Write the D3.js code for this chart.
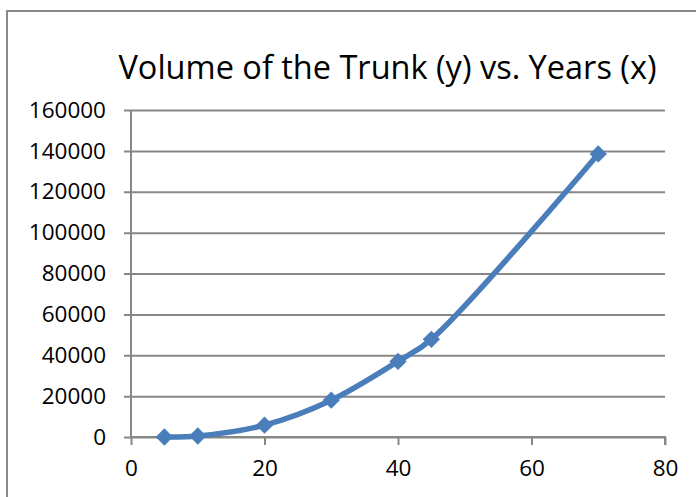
<!DOCTYPE html>
<html>
<head>
<meta charset="utf-8">
<script src="https://cdn.jsdelivr.net/npm/d3@7/dist/d3.min.js"></script>
<style>
  html, body { margin: 0; padding: 0; background: #fff; }
  svg { display: block; }
  text { font-family: "Open Sans", "Noto Sans", sans-serif; fill: #000; }
</style>
</head>
<body>
<svg id="chart" width="696" height="497"></svg>
<script>
const titleText = "Volume of the Trunk (y) vs. Years (x)";
const years = [5, 10, 20, 30, 40, 45, 70];
const volumes = [0, 500, 5800, 18000, 37000, 47800, 138500];
const xTicks = [0, 20, 40, 60, 80];
const yTicks = [0, 20000, 40000, 60000, 80000, 100000, 120000, 140000, 160000];

const svg = d3.select("#chart");
const plotL = 131, plotR = 665, plotT = 110, plotB = 437;

const x = d3.scaleLinear().domain([0, 80]).range([plotL, plotR]);
const y = d3.scaleLinear().domain([0, 160000]).range([plotB, plotT]);

// outer chart border (only top/left visible)
svg.append("rect")
  .attr("x", 7).attr("y", 11).attr("width", 900).attr("height", 700)
  .attr("fill", "#fff").attr("stroke", "#8a8a8a").attr("stroke-width", 2);

// title
svg.append("text")
  .attr("x", (118 + 657) / 2).attr("y", 79)
  .attr("text-anchor", "middle")
  .attr("font-size", 32.5)
  .text(titleText);

const gridColor = "#878787";

// horizontal gridlines + y ticks
const yAxis = d3.axisLeft(y).tickValues(yTicks).tickSize(plotR - plotL + 7).tickPadding(18)
  .tickFormat(d3.format("d"));
const gy = svg.append("g").attr("transform", `translate(${plotR},0)`).call(yAxis);
gy.select(".domain").remove();
gy.selectAll(".tick line").attr("stroke", gridColor).attr("stroke-width", 2);
gy.selectAll(".tick text").attr("x", -(plotR - plotL) - 25)
  .attr("font-size", 22.5).attr("font-family", "'Open Sans', sans-serif").attr("fill", "#000");

// y axis line
svg.append("line").attr("x1", plotL).attr("x2", plotL).attr("y1", plotT).attr("y2", plotB)
  .attr("stroke", gridColor).attr("stroke-width", 2);

// x axis
const xAxis = d3.axisBottom(x).tickValues(xTicks).tickSize(8).tickPadding(15)
  .tickFormat(d3.format("d"));
const gx = svg.append("g").attr("transform", `translate(0,${plotB})`).call(xAxis);
gx.select(".domain").attr("stroke", gridColor).attr("stroke-width", 2).attr("d", `M${plotL},0H${plotR}V8`);
gx.selectAll(".tick line").attr("stroke", gridColor).attr("stroke-width", 2);
gx.selectAll(".tick text").attr("font-size", 22.5).attr("font-family", "'Open Sans', sans-serif").attr("fill", "#000");

const data = years.map((d, i) => ({ x: d, y: volumes[i] }));
const color = "#4A7EBB";

const line = d3.line().x(d => x(d.x)).y(d => y(d.y)).curve(d3.curveCatmullRom.alpha(0.5));
svg.append("path").datum(data).attr("d", line)
  .attr("fill", "none").attr("stroke", color).attr("stroke-width", 5.5)
  .attr("stroke-linejoin", "round").attr("stroke-linecap", "round");

svg.selectAll(".pt").data(data).enter().append("path")
  .attr("class", "pt")
  .attr("d", d3.symbol().type(d3.symbolSquare).size(150))
  .attr("transform", d => `translate(${x(d.x)},${y(d.y)}) rotate(45)`)
  .attr("fill", color);
</script>
</body>
</html>
